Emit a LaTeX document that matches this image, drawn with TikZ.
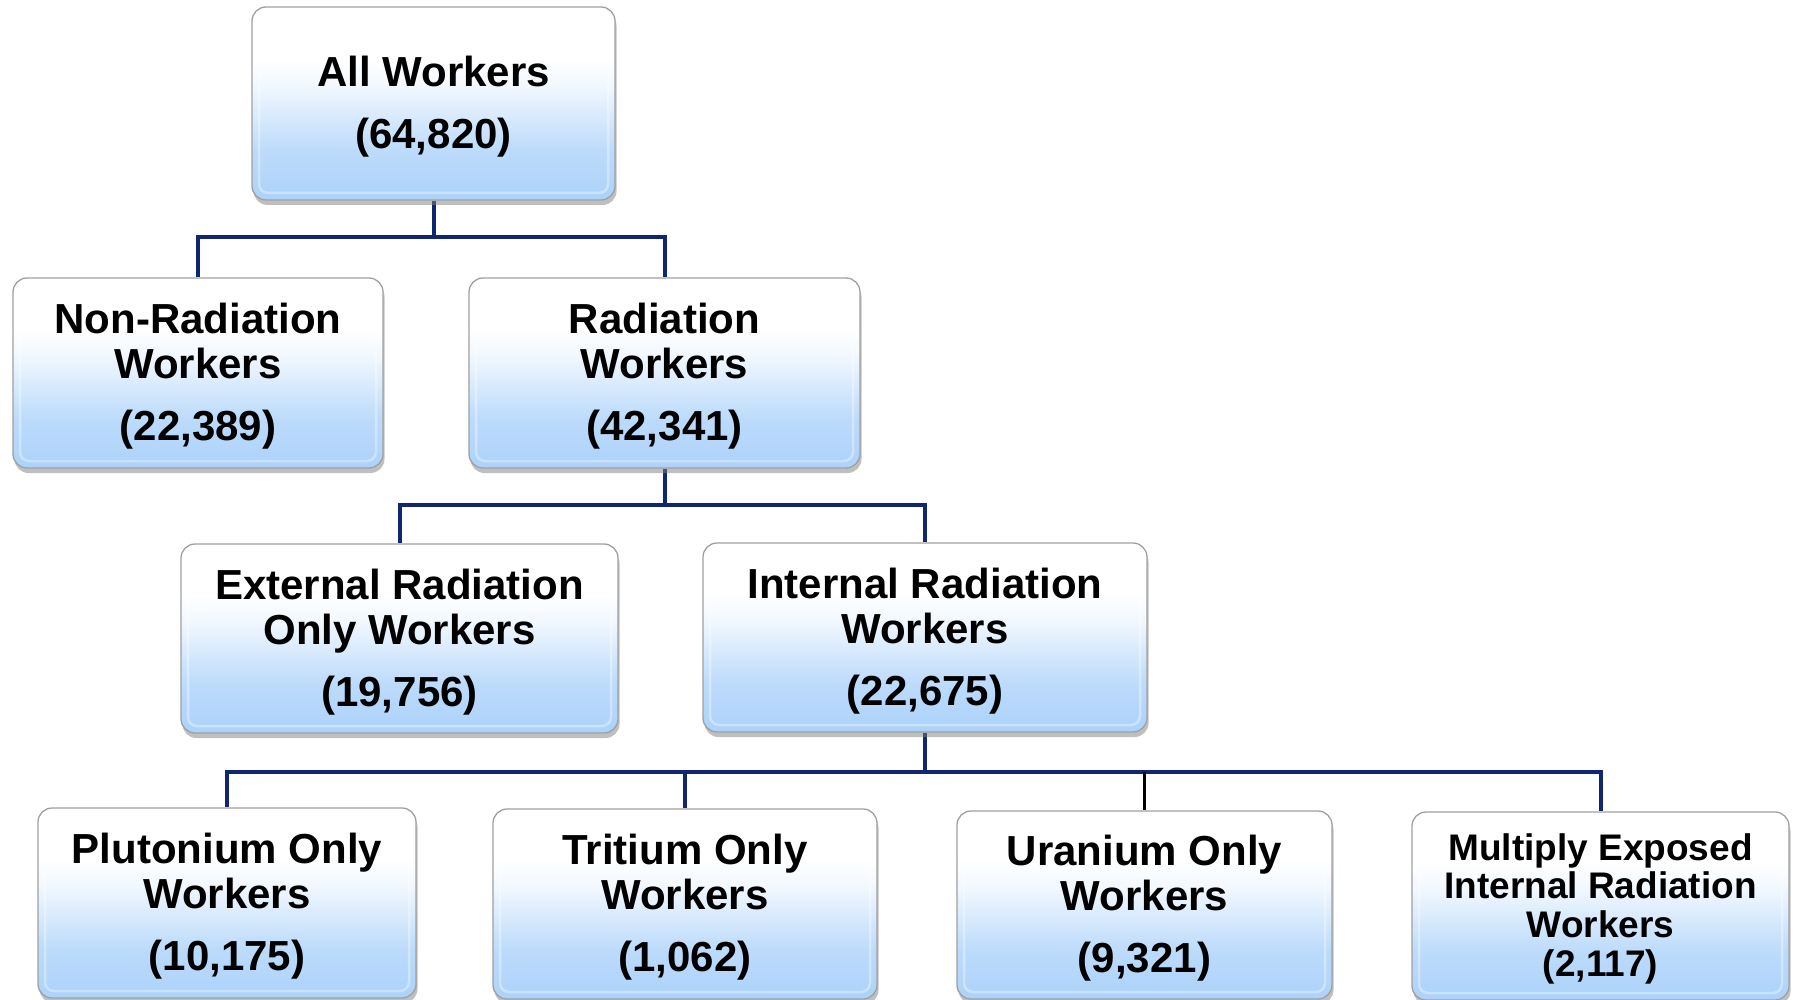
\documentclass[tikz,border=0pt]{standalone}
\usepackage{fontspec}
\setmainfont{Liberation Sans}
\usetikzlibrary{shadows,backgrounds}
\definecolor{navy}{RGB}{16,38,112}
\definecolor{boxblue}{RGB}{172,210,250}
\definecolor{boxedge}{RGB}{160,160,160}
\pgfdeclareverticalshading{boxshade}{100bp}{color(0bp)=(boxblue); color(25bp)=(boxblue); color(38bp)=(boxblue!80!white); color(55bp)=(boxblue!15!white); color(62bp)=(white); color(100bp)=(white)}
\newcommand{\fl}{\rule{0pt}{37pt}}
\begin{document}
\begin{tikzpicture}[x=1pt,y=-1pt,
  box/.style={draw=boxedge, line width=1.3pt, rounded corners=14pt, shading=boxshade,
    drop shadow={opacity=0.5, shadow xshift=1.5pt, shadow yshift=-5pt},
    align=center, inner sep=0pt,
    font=\fontsize{42}{45}\selectfont\bfseries,
    path picture={\draw[white, opacity=0.35, line width=2.5pt, rounded corners=9pt]
      ([shift={(7pt,-7pt)}]path picture bounding box.north west) rectangle
      ([shift={(-7pt,7pt)}]path picture bounding box.south east);}},
  smallbox/.style={box, font=\fontsize{37}{38.6}\selectfont\bfseries},
  conn/.style={draw=navy, line width=4pt},
  connk/.style={draw=black, line width=3.6pt}]
\useasboundingbox (0,0) rectangle (1797,1000);

\node[box, minimum width=363pt, minimum height=193pt] (all) at (433.5,103.5) {\fl All Workers\\[17pt](64,820)};

\node[box, minimum width=370pt, minimum height=190pt] (non) at (198,373) {\fl Non-Radiation\\Workers\\[17pt](22,389)};
\node[box, minimum width=391pt, minimum height=190pt] (rad) at (664.5,373) {\fl Radiation\\Workers\\[17pt](42,341)};

\node[box, minimum width=437pt, minimum height=189pt] (ext) at (399.5,638.5) {\fl External Radiation\\Only Workers\\[17pt](19,756)};
\node[box, minimum width=444pt, minimum height=189pt] (int) at (925,637.5) {\fl Internal Radiation\\Workers\\[17pt](22,675)};

\node[box, minimum width=378pt, minimum height=190pt] (plu) at (227,903) {\fl Plutonium Only\\Workers\\[17pt](10,175)};
\node[box, minimum width=384pt, minimum height=190pt] (tri) at (685,904) {\fl Tritium Only\\Workers\\[17pt](1,062)};
\node[box, minimum width=375pt, minimum height=188pt] (ura) at (1144.5,905) {\fl Uranium Only\\Workers\\[17pt](9,321)};
\node[smallbox, minimum width=377pt, minimum height=188pt] (mul) at (1600.5,906) {\rule{0pt}{32pt}Multiply Exposed\\Internal Radiation\\Workers\\(2,117)};

\coordinate (j1) at (433.5,237);
\coordinate (j2) at (664.5,505);
\coordinate (j3) at (925,772);
\coordinate (j3u) at (1144.5,772);

\begin{scope}[on background layer]
\draw[conn] (all.south) -- (j1) -| (non.north);
\draw[conn] (j1) -| (rad.north);
\draw[conn] (rad.south) -- (j2) -| (ext.north);
\draw[conn] (j2) -| (int.north);
\draw[conn] (int.south) -- (j3) -| (plu.north);
\draw[conn] (j3) -| (tri.north);
\draw[conn] (j3) -| (mul.north);
\draw[connk] (j3u) -- (ura.north);
\end{scope}
\end{tikzpicture}
\end{document}
